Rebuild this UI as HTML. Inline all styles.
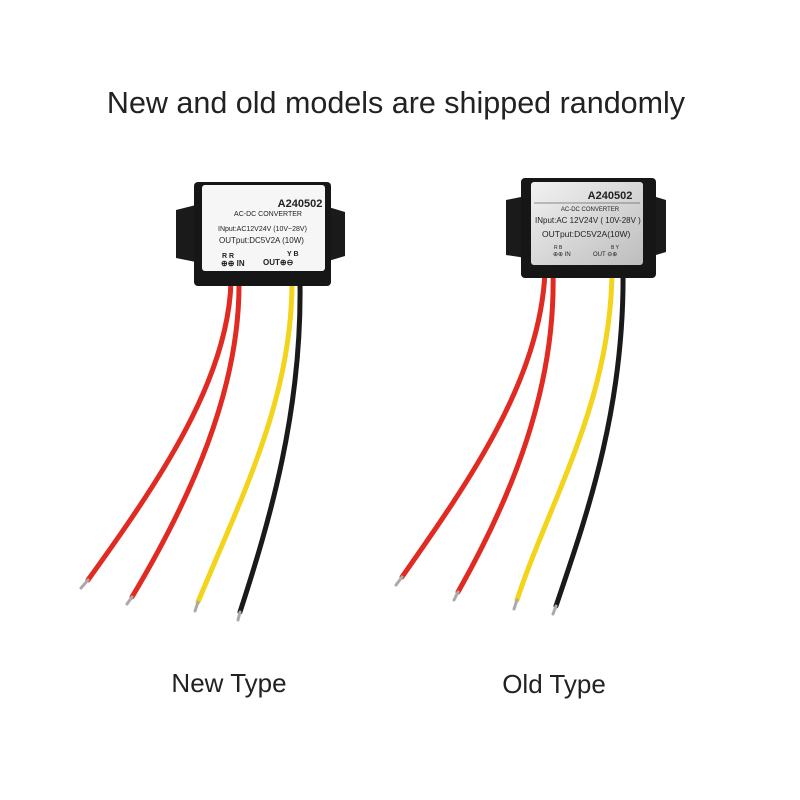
<!DOCTYPE html>
<html><head><style>body{margin:0;background:#fff}svg{display:block}</style></head><body>
<svg width="800" height="800" viewBox="0 0 800 800" xmlns="http://www.w3.org/2000/svg" font-family="Liberation Sans, sans-serif">
<rect width="800" height="800" fill="#fff"/>
<text x="396" y="113" font-size="30.5" text-anchor="middle" fill="#222">New and old models are shipped randomly</text>
<text x="229" y="692" font-size="26" text-anchor="middle" fill="#222">New Type</text>
<text x="554" y="693" font-size="26" text-anchor="middle" fill="#222">Old Type</text>
<defs>
<linearGradient id="g" x1="0" y1="0" x2="1" y2="1"><stop offset="0" stop-color="#f2f2f2"/><stop offset="1" stop-color="#bdbdbd"/></linearGradient>
</defs>
<g fill="none" stroke-linecap="round">
<path d="M231 282 C228 380 160 480 88 580" stroke="#e02a22" stroke-width="5"/>
<path d="M239 282 C240 390 190 500 132 597" stroke="#e02a22" stroke-width="5"/>
<path d="M292 282 C292 400 240 500 198 602" stroke="#f3d41a" stroke-width="5"/>
<path d="M300 282 C302 410 270 520 240 612" stroke="#1a1a1a" stroke-width="5"/>
<path d="M88 580 L81 588" stroke="#aaa" stroke-width="3"/>
<path d="M132 597 L127 604" stroke="#aaa" stroke-width="3"/>
<path d="M198 602 L195 611" stroke="#aaa" stroke-width="3"/>
<path d="M240 612 L238 620" stroke="#aaa" stroke-width="3"/>
<path d="M545 272 C540 380 470 480 402 577" stroke="#e02a22" stroke-width="5"/>
<path d="M553 272 C556 390 510 500 458 592" stroke="#e02a22" stroke-width="5"/>
<path d="M612 268 C612 400 550 500 517 600" stroke="#f3d41a" stroke-width="5"/>
<path d="M623 268 C625 410 585 520 556 606" stroke="#1a1a1a" stroke-width="5"/>
<path d="M402 577 L396 585" stroke="#aaa" stroke-width="3"/>
<path d="M458 592 L454 600" stroke="#aaa" stroke-width="3"/>
<path d="M517 600 L514 609" stroke="#aaa" stroke-width="3"/>
<path d="M556 606 L553 614" stroke="#aaa" stroke-width="3"/>
</g>
<path d="M176 210 L196 205 L196 262 L176 258 Z" fill="#1a1a1a"/>
<path d="M345 212 L325 206 L325 262 L345 256 Z" fill="#1a1a1a"/>
<rect x="194" y="182" width="137" height="104" rx="4" fill="#161616"/>
<rect x="202" y="185" width="123" height="86" rx="3" fill="#f6f6f6"/>
<g fill="#222" font-weight="bold">
<text x="300" y="207" font-size="11" text-anchor="middle">A240502</text>
<text x="268" y="216" font-size="7" font-weight="normal" text-anchor="middle">AC-DC  CONVERTER</text>
<text x="218" y="231" font-size="7" font-weight="normal">INput:AC12V24V (10V~28V)</text>
<text x="219" y="243" font-size="8" font-weight="normal">OUTput:DC5V2A (10W)</text>
<text x="222" y="258" font-size="7">R R</text>
<text x="221" y="266" font-size="8">⊕⊕ IN</text>
<text x="287" y="256" font-size="7">Y  B</text>
<text x="263" y="265" font-size="8">OUT⊕⊖</text>
</g>
<path d="M506 200 L526 196 L526 258 L506 255 Z" fill="#1a1a1a"/>
<path d="M666 200 L646 194 L646 258 L666 252 Z" fill="#1a1a1a"/>
<rect x="521" y="178" width="135" height="100" rx="4" fill="#161616"/>
<rect x="531" y="182" width="112" height="83" rx="3" fill="url(#g)"/>
<g fill="#222">
<text x="610" y="199" font-size="11" font-weight="bold" text-anchor="middle">A240502</text>
<line x1="534" y1="203" x2="640" y2="203" stroke="#666" stroke-width="0.7"/>
<text x="590" y="211" font-size="6" text-anchor="middle">AC-DC   CONVERTER</text>
<text x="535" y="223" font-size="8">INput:AC 12V24V ( 10V-28V )</text>
<text x="542" y="237" font-size="8.5">OUTput:DC5V2A(10W)</text>
<text x="554" y="249" font-size="5">R B</text>
<text x="553" y="256" font-size="6">⊕⊕ IN</text>
<text x="611" y="249" font-size="5">B Y</text>
<text x="593" y="256" font-size="6">OUT ⊖⊕</text>
</g>
</svg>
</body></html>
